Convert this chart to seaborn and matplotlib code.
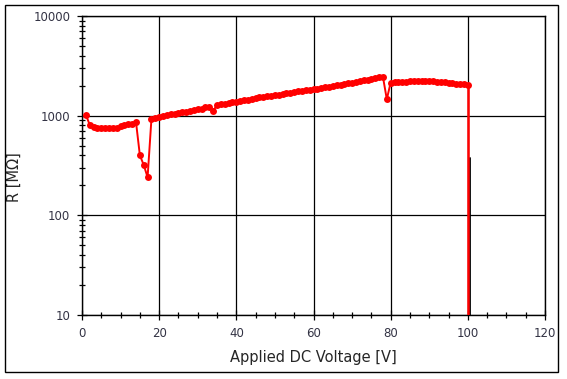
import numpy as np
import pandas as pd
import matplotlib
matplotlib.use("Agg")
import matplotlib.pyplot as plt
from matplotlib.patches import Rectangle
from matplotlib.ticker import LogLocator, MultipleLocator, NullFormatter
import seaborn as sns

voltage = list(range(1, 101))
resistance = [
    1020, 810, 770, 755, 750, 745, 745, 750, 755, 790,
    810, 820, 830, 860, 400, 320, 241, 930, 950, 970,
    990, 1010, 1030, 1050, 1070, 1090, 1100, 1120, 1140, 1160,
    1180, 1210, 1230, 1120, 1280, 1300, 1320, 1340, 1360, 1380,
    1400, 1420, 1450, 1470, 1500, 1530, 1550, 1570, 1590, 1610,
    1630, 1650, 1680, 1700, 1720, 1750, 1770, 1800, 1820, 1850,
    1870, 1900, 1930, 1960, 1990, 2020, 2050, 2080, 2110, 2150,
    2180, 2220, 2260, 2300, 2350, 2400, 2430, 2450, 1460, 2150,
    2170, 2180, 2190, 2200, 2210, 2220, 2230, 2240, 2240, 2230,
    2220, 2200, 2180, 2160, 2140, 2120, 2100, 2090, 2070, 2050,
]
# breakdown at 100 V: red trace falls off the bottom of the axis
drop_v = 100
drop_r = [2050, 0.5]
# second trace, only visible at the breakdown point
black_v = [100.45, 100.45]
black_r = [380, 0.5]

df = pd.DataFrame({"V": voltage, "R": resistance})

sns.set_style("white")
plt.rcParams["font.family"] = ["DejaVu Sans"]

fig = plt.figure(figsize=(5.67, 3.79), dpi=100)
ax = fig.add_axes([82 / 567, 1 - 315 / 379, 463 / 567, 299 / 379])
ax.set_axisbelow(True)

sns.lineplot(data=df, x="V", y="R", ax=ax, color="#ff0000", marker="o",
             markersize=5, markeredgewidth=0, linewidth=1.4, sort=False,
             estimator=None, zorder=5)
ax.vlines(drop_v, drop_r[1], drop_r[0], color="#ff0000", linewidth=1.8, zorder=5)
ax.plot(black_v, black_r, color="black", linewidth=1.3, zorder=4)

ax.set_yscale("log")
ax.set_xlim(0, 120)
ax.set_ylim(10, 10000)
ax.xaxis.set_major_locator(MultipleLocator(20))
ax.xaxis.set_minor_locator(MultipleLocator(5))
ax.yaxis.set_minor_locator(LogLocator(base=10, subs=np.arange(2, 10), numticks=10))
ax.yaxis.set_minor_formatter(NullFormatter())
ax.set_yticks([10, 100, 1000, 10000])
ax.set_yticklabels(["10", "100", "1000", "10000"])

ax.grid(True, which="major", color="black", linewidth=0.9, zorder=0)
ax.tick_params(which="major", direction="inout", length=7, width=0.9,
               colors="black", labelsize=8.5, labelcolor="#333344", pad=5)
ax.tick_params(which="minor", direction="inout", length=5, width=0.9,
               colors="black")
ax.tick_params(axis="x", bottom=True, which="both")
ax.tick_params(axis="y", left=True, which="both")
for s in ax.spines.values():
    s.set_color("black")
    s.set_linewidth(1)

ax.set_xlabel("Applied DC Voltage [V]", fontsize=10.5, labelpad=7)
ax.set_ylabel("R [MΩ]", fontsize=10.5)
ax.yaxis.set_label_coords(-0.13, 0.46)

fig.patches.append(Rectangle((5 / 567, 1 - 372 / 379), 553 / 567, 367 / 379,
                             transform=fig.transFigure, fill=False,
                             edgecolor="black", linewidth=1))

fig.savefig("out.png", dpi=100)
